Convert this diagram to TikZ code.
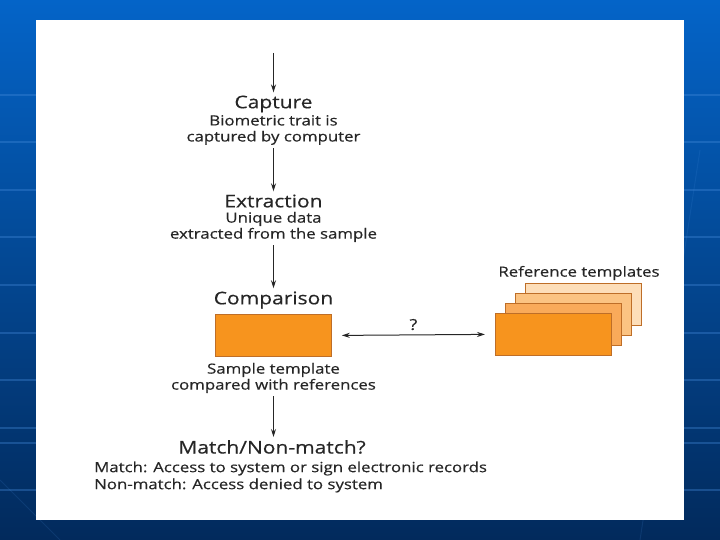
\documentclass[tikz,border=0pt]{standalone}
\usepackage{fontspec}
\setmainfont[FakeStretch=1.2, FakeBold=0.4]{Open Sans}
\usetikzlibrary{arrows.meta, positioning}

\definecolor{slidetop}{RGB}{4,100,200}
\definecolor{slidebottom}{RGB}{2,42,92}
\definecolor{gridline}{RGB}{70,140,220}
\definecolor{inkgray}{RGB}{38,38,38}
\definecolor{tmplA}{RGB}{247,148,30}
\definecolor{tmplB}{RGB}{249,170,90}
\definecolor{tmplC}{RGB}{251,195,130}
\definecolor{tmplD}{RGB}{253,222,185}
\definecolor{tmplEdge}{RGB}{190,110,40}

\begin{document}
\begin{tikzpicture}[
    x=1pt, y=-1pt,
    >=Stealth,
    flow/.style={->, line width=1.2pt, inkgray, shorten >=1pt, shorten <=1pt,
        >={Stealth[length=8pt, width=5pt]}},
    both/.style={<->, line width=1pt, inkgray,
        >={Stealth[length=8pt, width=5pt]}},
    stage/.style={text=inkgray, font=\fontsize{17.5}{20}\selectfont, inner sep=2pt},
    desc/.style={text=inkgray, font=\fontsize{14}{16}\selectfont, align=center, inner sep=2pt},
    outcome/.style={text=inkgray, font=\fontsize{14}{17}\selectfont, align=left, inner sep=0pt},
    template/.style={draw=tmplEdge, line width=0.8pt, minimum width=116pt, minimum height=42pt, inner sep=0pt}
]

% ==================== SLIDE BACKGROUND ====================
\useasboundingbox (0,0) rectangle (720,540);
\shade[top color=slidetop, bottom color=slidebottom] (0,0) rectangle (720,540);
\foreach \yy in {95,142,190,237,285,333,380,428,443,490}
    \draw[gridline, opacity=0.35, line width=1.2pt] (0,\yy) -- (720,\yy);
\draw[gridline, opacity=0.15, line width=1pt] (0,480) -- (60,540);
\draw[gridline, opacity=0.15, line width=1pt] (700,150) -- (640,540);
\fill[white] (36,20) rectangle (684,520);

% ==================== FLOW ====================
\coordinate (start) at (273.5,52);

\node[stage] (capture) at (273.5,104) {Capture};
\node[desc] (capdesc) at (273.5,130) {Biometric trait is\\captured by computer};

\node[stage] (extract) at (273.5,201) {Extraction};
\node[desc] (extdesc) at (273.5,227) {Unique data\\extracted from the sample};

\node[stage] (compare) at (273.5,300) {Comparison};
\node[template, fill=tmplA, anchor=north west] (sample) at (215,314) {};
\node[desc] (cmpdesc) at (273.5,378) {Sample template\\compared with references};

\node[stage] (match) at (272,447) {Match/Non-match?};
\node[outcome, anchor=west] (result) at (94,477)
    {Match: Access to system or sign electronic records\\Non-match: Access denied to system};

% Reference templates (stacked, back to front)
\node[template, fill=tmplD, anchor=north west] (ref4) at (525,283) {};
\node[template, fill=tmplC, anchor=north west] (ref3) at (515,293) {};
\node[template, fill=tmplB, anchor=north west] (ref2) at (505,303) {};
\node[template, fill=tmplA, anchor=north west] (ref1) at (495,313) {};
\node[desc] (reflabel) at (579,273) {Reference templates};

% Arrows
\draw[flow] (start) -- (capture);
\draw[flow] (capdesc) -- (extract);
\draw[flow] (extdesc) -- (compare);
\draw[flow] (cmpdesc.south) -- (cmpdesc.south |- match.north);
\draw[both] ([xshift=10pt]sample.east) -- node[above=1pt, text=inkgray, font=\fontsize{15}{16}\selectfont] {?} ([xshift=-10pt]ref1.west);

\end{tikzpicture}
\end{document}
